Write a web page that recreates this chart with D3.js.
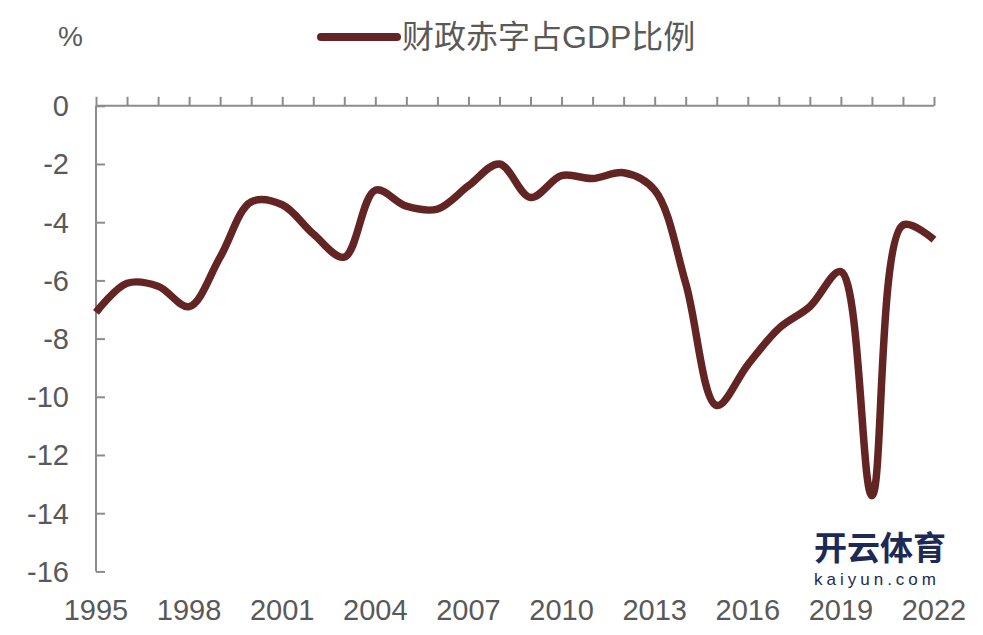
<!DOCTYPE html>
<html>
<head>
<meta charset="utf-8">
<script src="https://cdn.jsdelivr.net/npm/d3@7"></script>
<style>
  html, body { margin: 0; padding: 0; background: #fff; }
  svg text { font-family: "Liberation Sans", Arial, "Noto Sans CJK SC", sans-serif; fill: #595959; }
</style>
</head>
<body>
<svg id="chart" width="983" height="635"></svg>
<script>
// 数据
const years = d3.range(1995, 2023);
const deficit = [-7.1, -6.1, -6.2, -6.9, -5.2, -3.3, -3.4, -4.4, -5.2, -2.9,
                 -3.45, -3.55, -2.75, -2.0, -3.15, -2.4, -2.5, -2.3, -2.9, -6.1,
                 -10.3, -8.9, -7.65, -6.9, -5.7, -13.4, -4.1, -4.6];
const yTicks = d3.range(0, -17, -2);
const xLabelYears = d3.range(1995, 2023, 3);
const seriesName = "财政赤字占GDP比例";

const LINE = "#632523";
const AXIS = "#8c8c8c";

const svg = d3.select("#chart");
const data = years.map((y, i) => ({ year: y, value: deficit[i] }));

const x = d3.scalePoint().domain(years).range([96, 934]);
const y = d3.scaleLinear().domain([0, -16]).range([105.8, 571.4]);

// 横轴（在 0 位置，刻度朝上）
const xAxis = svg.append("g")
  .attr("transform", `translate(0,${y(0)})`)
  .call(d3.axisTop(x).tickSize(9).tickFormat(""));
xAxis.select(".domain").attr("d", `M${x(1995)},0H${x(2022)}`);
xAxis.selectAll("line, path").attr("stroke", AXIS).attr("stroke-width", 2);

// 纵轴（刻度朝右）
const yAxis = svg.append("g")
  .attr("transform", `translate(${x(1995)},0)`)
  .call(d3.axisRight(y).tickValues(yTicks).tickSize(9).tickFormat(""));
yAxis.select(".domain").attr("d", `M0,${y(0)}V${y(-16)}`);
yAxis.selectAll("line, path").attr("stroke", AXIS).attr("stroke-width", 2);

// 纵轴标签
svg.append("g").selectAll("text")
  .data(yTicks)
  .join("text")
    .attr("x", 69)
    .attr("y", d => y(d))
    .attr("dy", "0.36em")
    .attr("text-anchor", "end")
    .style("font-size", "29px")
    .text(d => d);

// 横轴标签（放在底部）
svg.append("g").selectAll("text")
  .data(xLabelYears)
  .join("text")
    .attr("x", d => x(d))
    .attr("y", 620)
    .attr("text-anchor", "middle")
    .style("font-size", "29px")
    .text(d => d);

// 单位
svg.append("text")
  .attr("x", 58).attr("y", 46)
  .style("font-size", "28px")
  .text("%");

// 折线
svg.append("path")
  .datum(data)
  .attr("fill", "none")
  .attr("stroke", LINE)
  .attr("stroke-width", 7.5)
  .attr("stroke-linejoin", "round")
  .attr("d", d3.line()
    .x(d => x(d.year))
    .y(d => y(d.value))
    .curve(d3.curveCatmullRom.alpha(0.5)));

// 图例
svg.append("line")
  .attr("x1", 321).attr("x2", 397)
  .attr("y1", 37).attr("y2", 37)
  .attr("stroke", LINE)
  .attr("stroke-width", 8)
  .attr("stroke-linecap", "round");
svg.append("text")
  .attr("x", 402).attr("y", 48)
  .style("font-size", "32px")
  .text(seriesName);

// 水印
svg.append("text")
  .attr("x", 814).attr("y", 560)
  .style("font-size", "33px").style("font-weight", "bold")
  .style("fill", "#1c2a55")
  .text("开云体育");
svg.append("text")
  .attr("x", 814).attr("y", 585)
  .style("font-size", "17px")
  .style("fill", "#1c2a55")
  .style("letter-spacing", "4px")
  .text("kaiyun.com");
</script>
</body>
</html>
